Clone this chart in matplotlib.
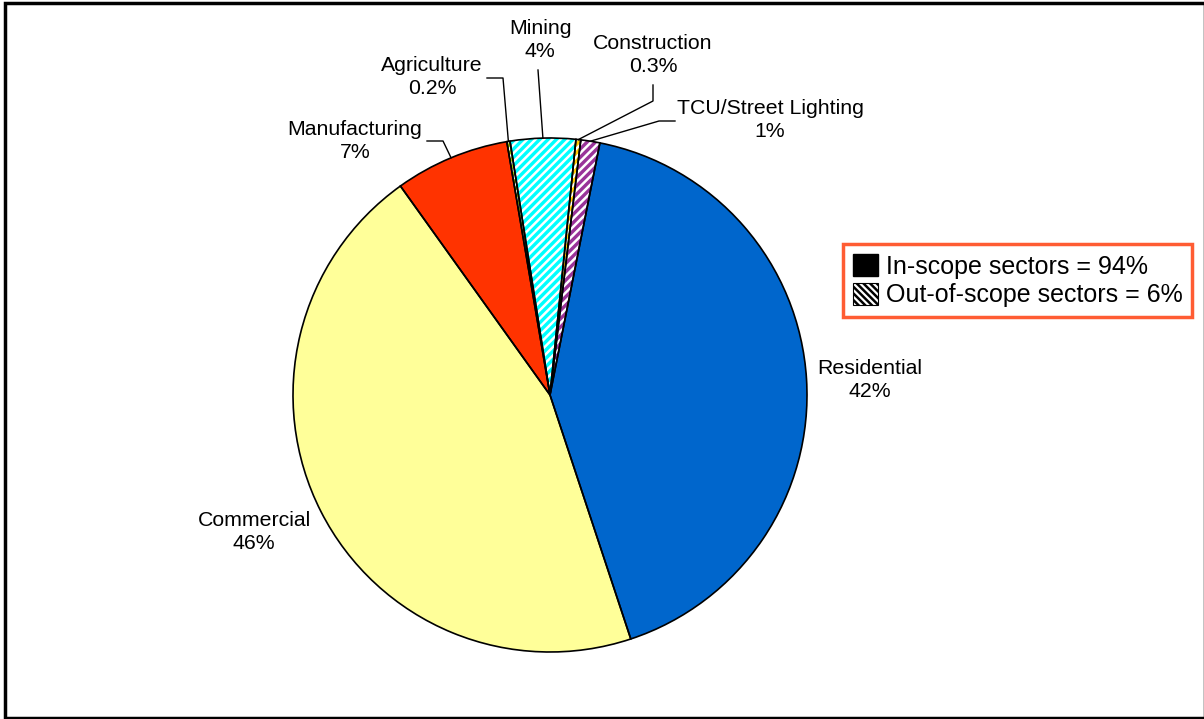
import numpy as np
import matplotlib
matplotlib.use('Agg')
import matplotlib.pyplot as plt
from matplotlib.patches import Rectangle, Patch

plt.rcParams['font.family'] = ['Liberation Sans', 'DejaVu Sans']
plt.rcParams['hatch.linewidth'] = 1.8

# sector shares (%), clockwise from Residential
sectors = ['Residential', 'Commercial', 'Manufacturing', 'Agriculture',
           'Mining', 'Construction', 'TCU/Street Lighting']
shares = [41.8, 45.2, 7.2, 0.2, 4.1, 0.3, 1.2]
share_labels = ['42%', '46%', '7%', '0.2%', '4%', '0.3%', '1%']
in_scope = [True, True, True, False, False, False, False]
colors = ['#0066CC', '#FFFF99', '#FF3300', '#99CC00', '#00FFFF', '#FFCC00', '#993399']
legend_labels = ['In-scope sectors = 94%', 'Out-of-scope sectors = 6%']

W, H = 1204, 719
R_PX = 257.0
CX, CY = 550.0, 395.0


def px(x, y):
    # pixel position -> data coords (pie radius = 1)
    return (x - CX) / R_PX, (CY - y) / R_PX


def fix_limits(ax):
    ax.set_xlim(px(0, 0)[0], px(W, 0)[0])
    ax.set_ylim(px(0, H)[1], px(0, 0)[1])
    ax.set_aspect('auto')
    ax.axis('off')


fig = plt.figure(figsize=(W / 100, H / 100), dpi=100)
ax = fig.add_axes([0, 0, 1, 1])

start = 90 - 11.2

# filled wedges, out-of-scope ones get white stripes
wedges, _ = ax.pie(shares, colors=colors, startangle=start, counterclock=False,
                   radius=1, center=(0, 0), frame=True,
                   wedgeprops=dict(linewidth=0))
for w, ins in zip(wedges, in_scope):
    if not ins:
        w.set_hatch('////')
        w.set_edgecolor('white')
        w.set_linewidth(0)

# black outlines on top
ax.pie(shares, colors=['none'] * len(shares), startangle=start, counterclock=False,
       radius=1, center=(0, 0), frame=True,
       wedgeprops=dict(linewidth=1.2, edgecolor='black', fill=False))
fix_limits(ax)

# label layout (pixel centres) and leader elbows
label_pos = {
    'Residential': (870, 380),
    'Commercial': (254, 532),
    'Manufacturing': (355, 141),
    'Agriculture': (432, 77),
    'Mining': (540, 40),
    'Construction': (653, 55),
    'TCU/Street Lighting': (770, 120),
}
leaders = {
    'Manufacturing': [(427, 141), (443, 141)],
    'Agriculture': [(487, 78), (503, 78)],
    'Mining': [(538, 70)],
    'Construction': [(653, 85), (653, 101)],
    'TCU/Street Lighting': [(675, 121), (659, 121)],
}

cum = np.cumsum([0] + shares)
total = cum[-1]
for i, name in enumerate(sectors):
    lx, ly = px(*label_pos[name])
    ax.text(lx, ly, name + '\n' + share_labels[i], ha='center', va='center',
            fontsize=15.3, linespacing=1.22)
    if name in leaders:
        mid = start - 360 * (cum[i] + cum[i + 1]) / 2 / total
        rim = (np.cos(np.radians(mid)), np.sin(np.radians(mid)))
        pts = [px(*p) for p in leaders[name]] + [rim]
        ax.plot([p[0] for p in pts], [p[1] for p in pts], color='black', lw=1)

handles = [Patch(facecolor='black', edgecolor='black'),
           Patch(facecolor='white', edgecolor='black', hatch='\\\\\\\\\\', linewidth=0.8)]
leg = ax.legend(handles, legend_labels, loc='upper left',
                bbox_to_anchor=(843 / W, 1 - 244 / H), fontsize=18,
                frameon=True, fancybox=False, handlelength=1.0, handleheight=1.0,
                handletextpad=0.3, borderpad=0.4, labelspacing=0.15,
                borderaxespad=0)
leg.get_frame().set_edgecolor('#FF3300')
leg.get_frame().set_linewidth(2.5)

# outer chart frame
fig.patches.append(Rectangle((5 / W, 1 / H), (W - 4) / W, (H - 4) / H,
                             transform=fig.transFigure, fill=False,
                             edgecolor='black', linewidth=2.5))

fig.savefig('out.png', dpi=100)
